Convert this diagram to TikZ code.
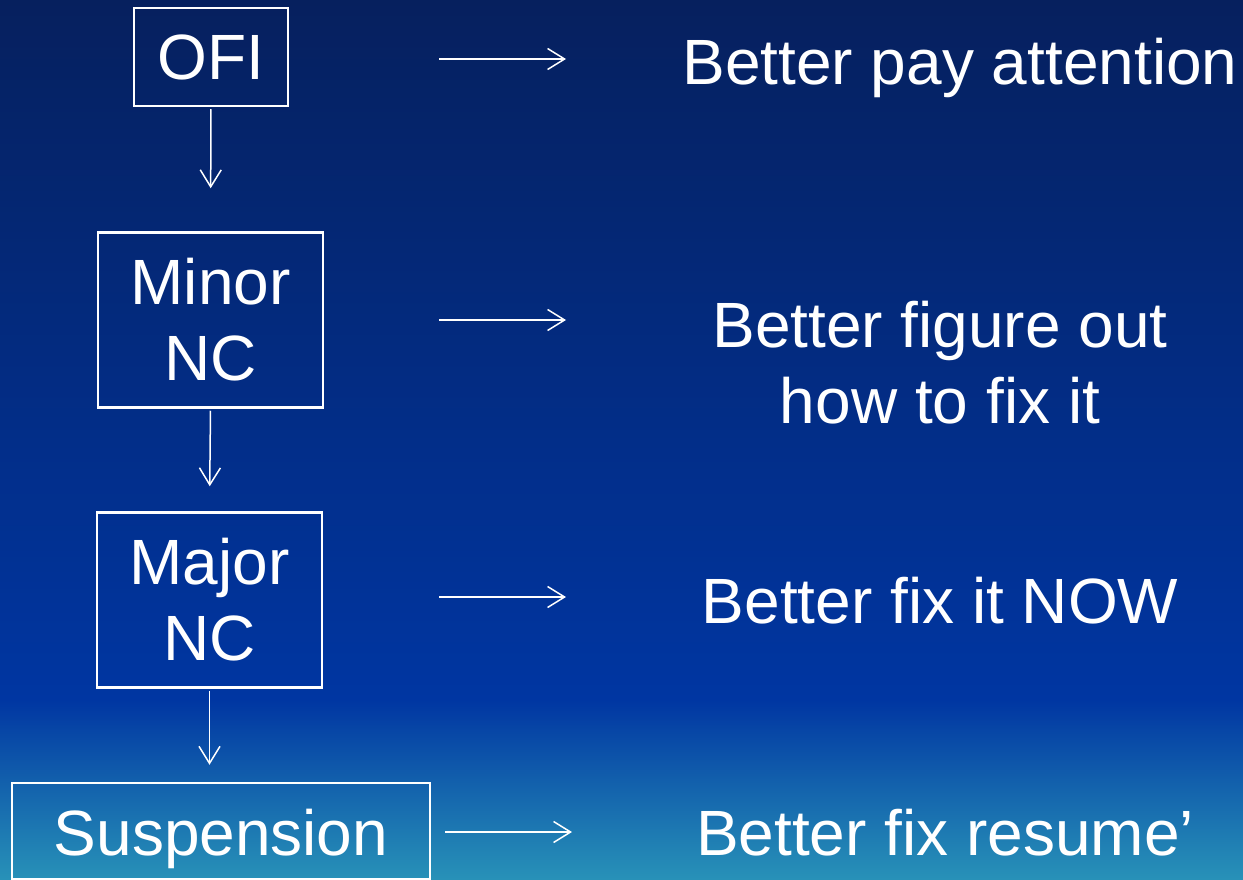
\documentclass[tikz,border=0pt]{standalone}
\usepackage{fontspec}
\setmainfont{Liberation Sans}
\usetikzlibrary{arrows.meta}
\definecolor{bgtop}{RGB}{6,32,94}
\definecolor{bgmid}{RGB}{0,54,162}
\definecolor{bgbot}{RGB}{40,146,184}
\tikzset{
  big/.style={font=\fontsize{64}{76}\selectfont, text=white},
  boxnode/.style={big, draw=white, line width=2.5pt, inner sep=0pt, align=center},
  lbl/.style={big, inner sep=0pt, align=center},
  arr/.style={white, line width=1.5pt, -{Straight Barb[length=17pt,width=21pt]}}
}
\begin{document}
\begin{tikzpicture}[x=1pt,y=-1pt]
\useasboundingbox (0,0) rectangle (1243,880);
\shade[top color=bgtop, bottom color=bgmid] (0,0) rectangle (1243,700);
\shade[top color=bgmid, bottom color=bgbot] (0,699.5) rectangle (1243,880);

% left column boxes
\node[boxnode, minimum width=154pt, minimum height=98pt] (ofi) at (211,57) {OFI};
\node[boxnode, minimum width=225pt, minimum height=175pt] (minor) at (210.5,320) {Minor\\NC};
\node[boxnode, minimum width=225pt, minimum height=175pt] (major) at (209.5,600) {Major\\NC};
\node[boxnode, minimum width=418pt, minimum height=96pt, text height=48pt, text depth=0pt] (susp) at (221,831) {Suspension};

% vertical arrows
\draw[arr, shorten <=2pt, shorten >=43pt] (ofi.south) -- (minor.north);
\draw[arr, shorten <=2pt, shorten >=25pt] (minor.south) -- (major.north);
\draw[arr, shorten <=2pt, shorten >=17pt] (major.south) -- (major.south |- susp.north);

% right column texts
\node[lbl, anchor=base] (t1) at (960,85) {Better pay attention};
\node[lbl] (t2) at (940,363) {Better figure out\\how to fix it};
\node[lbl, anchor=base] (t3) at (940,623) {Better fix it NOW};
\node[lbl, anchor=base] (t4) at (945,855) {Better fix resume’};

% horizontal arrows
\coordinate (a1s) at (439,59);  \coordinate (a1e) at (566,59);
\coordinate (a2s) at (439,320); \coordinate (a2e) at (566,320);
\coordinate (a3s) at (439,597); \coordinate (a3e) at (566,597);
\coordinate (a4s) at (445,832); \coordinate (a4e) at (572,832);
\draw[arr] (a1s) -- (a1e);
\draw[arr] (a2s) -- (a2e);
\draw[arr] (a3s) -- (a3e);
\draw[arr] (a4s) -- (a4e);
\end{tikzpicture}
\end{document}
